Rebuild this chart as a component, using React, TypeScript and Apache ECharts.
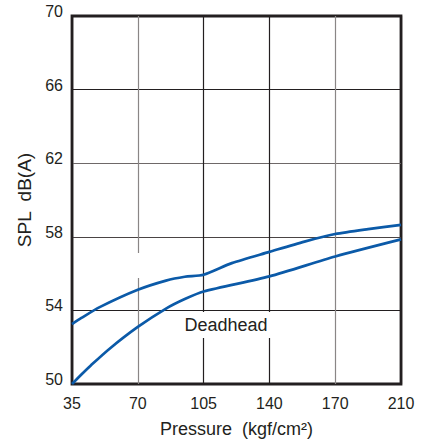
import React, { useEffect, useRef } from "react";
import * as echarts from "echarts";

// Axis ticks
const PRESSURE_TICKS = [35, 70, 105, 140, 170, 210];
const SPL_MIN = 50;
const SPL_MAX = 70;
const SPL_STEP = 4;

// Upper curve
const UPPER_PRESSURE = [35, 40, 50, 70, 85, 95, 105, 120, 140, 156, 170, 190, 210];
const UPPER_SPL = [53.26, 53.59, 54.19, 55.12, 55.62, 55.83, 55.94, 56.57, 57.18, 57.74, 58.15, 58.42, 58.65];

// Lower curve
const LOWER_PRESSURE = [35, 40, 45, 55, 70, 85, 95, 105, 140, 170, 210];
const LOWER_SPL = [50.0, 50.52, 51.01, 51.92, 53.1, 54.1, 54.62, 55.03, 55.85, 56.93, 57.86];

const X_NAME = "Pressure  (kgf/cm\u00B2)";
const Y_NAME = "SPL  dB(A)";
const NOTE = "Deadhead";

const INK = "#231f20";
const BLUE = "#0b5aa8";
const FONT = "'Liberation Sans', Arial, Helvetica, sans-serif";

// pressure -> position along the evenly spaced tick axis
function toTickIndex(p: number): number {
  const n = PRESSURE_TICKS.length;
  for (let i = 0; i < n - 1; i++) {
    const a = PRESSURE_TICKS[i];
    const b = PRESSURE_TICKS[i + 1];
    if (p <= b || i === n - 2) return i + (p - a) / (b - a);
  }
  return 0;
}

export default function App() {
  const ref = useRef<HTMLDivElement>(null);

  useEffect(() => {
    if (!ref.current) return;
    const chart = echarts.init(ref.current, undefined, { renderer: "svg" });

    const upper = UPPER_PRESSURE.map((p, i) => [toTickIndex(p), UPPER_SPL[i]]);
    const lower = LOWER_PRESSURE.map((p, i) => [toTickIndex(p), LOWER_SPL[i]]);

    chart.setOption({
      animation: false,
      backgroundColor: "#ffffff",
      textStyle: { fontFamily: FONT, color: INK },
      grid: {
        left: 72,
        right: 35,
        top: 16,
        bottom: 63,
        show: true,
        borderColor: INK,
        borderWidth: 2.8,
        backgroundColor: "transparent",
      },
      xAxis: {
        type: "value",
        min: 0,
        max: PRESSURE_TICKS.length - 1,
        interval: 1,
        name: X_NAME,
        nameLocation: "middle",
        nameGap: 36,
        nameTextStyle: { fontSize: 18, color: INK, fontFamily: FONT },
        axisLine: { show: false },
        axisTick: { show: false },
        axisLabel: {
          fontSize: 16,
          color: INK,
          fontFamily: FONT,
          margin: 11,
          formatter: (v: number) => String(PRESSURE_TICKS[Math.round(v)]),
        },
        splitLine: {
          show: true,
          lineStyle: {
            width: 1.2,
            color: [INK, "#8a8686", INK, INK, "#8a8686", INK],
          },
        },
      },
      yAxis: {
        type: "value",
        min: SPL_MIN,
        max: SPL_MAX,
        interval: SPL_STEP,
        name: Y_NAME,
        nameLocation: "middle",
        nameGap: 37,
        nameTextStyle: { fontSize: 19, color: INK, fontFamily: FONT },
        axisLine: { show: false },
        axisTick: { show: false },
        axisLabel: {
          fontSize: 16,
          color: INK,
          fontFamily: FONT,
          margin: 9,
          verticalAlign: "bottom",
          lineHeight: 9,
        },
        splitLine: {
          show: true,
          lineStyle: {
            width: 1.2,
            color: [INK, INK, "#4a4444", "#6e6868", INK, INK],
          },
        },
      },
      graphic: [
        {
          type: "rect",
          z: 5,
          shape: { x: 133, y: 253, width: 9, height: 25 },
          style: { fill: "#ffffff" },
        },
        {
          type: "text",
          z: 10,
          x: 226,
          y: 325,
          style: {
            text: NOTE,
            fill: INK,
            fontSize: 18,
            fontFamily: FONT,
            align: "center",
            verticalAlign: "middle",
            backgroundColor: "#ffffff",
            padding: [4, 9],
          },
        },
      ],
      series: [
        {
          type: "line",
          data: upper,
          showSymbol: false,
          smooth: 0.25,
          lineStyle: { color: BLUE, width: 2.7 },
          z: 3,
        },
        {
          type: "line",
          data: lower,
          showSymbol: false,
          smooth: 0.25,
          lineStyle: { color: BLUE, width: 2.7 },
          z: 3,
        },
      ],
    });

    return () => {
      chart.dispose();
    };
  }, []);

  return (
    <div
      ref={ref}
      style={{ position: "fixed", left: 0, top: 0, width: 436, height: 447 }}
    />
  );
}
